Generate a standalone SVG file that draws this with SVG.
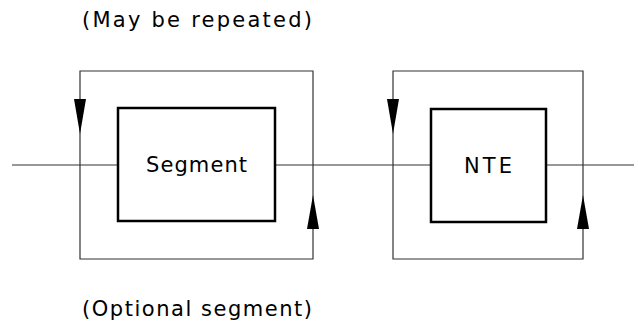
<svg xmlns="http://www.w3.org/2000/svg" width="638" height="324" viewBox="0 0 638 324">
<style>
.ln{fill:none;stroke:#333;stroke-width:1.2}
.box{fill:#fff;stroke:#000;stroke-width:2.5}
.t{font-family:"DejaVu Sans","Liberation Sans",sans-serif;font-size:21px;fill:#000}
.ah{fill:#000}
</style>
<rect width="638" height="324" fill="#fff"/>
<g id="connectors">
<line class="ln" x1="12" y1="165" x2="634" y2="165"/>
<polyline class="ln" points="313,165 313,71 80,71 80,259 313,259 313,165"/>
<polyline class="ln" points="583,165 583,71 393,71 393,259 583,259 583,165"/>
<polygon class="ah" points="74,99 86,99 80,134"/>
<polygon class="ah" points="387,99 399,99 393,134"/>
<polygon class="ah" points="307,229 319,229 313,195"/>
<polygon class="ah" points="577,229 589,229 583,195"/>
</g>
<g id="segment">
<rect class="box" x="118" y="108" width="157" height="113"/>
<text class="t" x="146" y="172" textLength="101" lengthAdjust="spacing">Segment</text>
</g>
<g id="nte">
<rect class="box" x="431" y="109" width="115" height="113"/>
<text class="t" x="464" y="173" textLength="48" lengthAdjust="spacing">NTE</text>
</g>
<g id="labels">
<text class="t" x="82" y="27" textLength="230" lengthAdjust="spacing">(May be repeated)</text>
<text class="t" x="82" y="316" textLength="230" lengthAdjust="spacing">(Optional segment)</text>
</g>
</svg>
